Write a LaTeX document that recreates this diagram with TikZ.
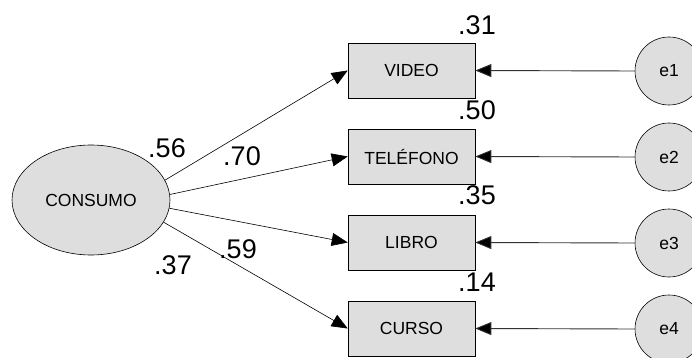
\documentclass[tikz,border=0pt]{standalone}
\usepackage{fontspec}
\setmainfont{Liberation Sans}
\usetikzlibrary{arrows.meta,shapes.geometric}
\definecolor{fillgray}{RGB}{222,222,222}
\definecolor{linegray}{RGB}{50,50,50}
\begin{document}
\begin{tikzpicture}[x=1pt,y=-1pt,
  latent/.style={ellipse,draw=black,fill=fillgray,line width=0.6pt,minimum width=158pt,minimum height=110pt,inner sep=0pt,font=\fontsize{17.5}{17.5}\selectfont},
  obsbox/.style={rectangle,draw=black,fill=fillgray,line width=0.6pt,minimum width=127pt,minimum height=55pt,inner sep=0pt,font=\fontsize{17.5}{17.5}\selectfont},
  errnode/.style={circle,draw=black,fill=fillgray,line width=0.6pt,minimum size=68pt,inner sep=0pt,font=\fontsize{17.5}{17.5}\selectfont},
  coef/.style={inner sep=0pt,font=\fontsize{27}{27}\selectfont},
  arr/.style={line width=0.6pt,-{Triangle[length=16pt,width=13pt]}},
  earr/.style={line width=0.9pt,draw=linegray,-{Triangle[length=16pt,width=13pt,fill=black]}}
]
\useasboundingbox (0,0) rectangle (692,358);
\clip (0,0) rectangle (692,358);
\node[latent] (cons) at (91,200) {CONSUMO};
\node[obsbox] (video) at (411.5,70.5) {VIDEO};
\node[obsbox] (tel) at (411.5,156.5) {TELÉFONO};
\node[obsbox] (libro) at (411.5,242.5) {LIBRO};
\node[obsbox] (curso) at (411.5,328.5) {CURSO};
\node[errnode] (e1) at (669,71) {e1};
\node[errnode] (e2) at (669,157) {e2};
\node[errnode] (e3) at (669,243) {e3};
\node[errnode] (e4) at (669,329) {e4};
\draw[arr] (cons.15) -- (video.west);
\draw[arr] (cons.4) -- (tel.west);
\draw[arr] (cons.-6) -- (libro.west);
\draw[arr] (cons.-17) -- (curso.west);
\draw[earr] (e1.west) -- (video.east);
\draw[earr] (e2.west) -- (tel.east);
\draw[earr] (e3.west) -- (libro.east);
\draw[earr] (e4.west) -- (curso.east);
\node[coef] (l56) at (167,148) {.56};
\node[coef] (l70) at (242,156) {.70};
\node[coef] (l37) at (173,265) {.37};
\node[coef] (l59) at (238,249) {.59};
\node[coef] (r31) at (477,25) {.31};
\node[coef] (r50) at (477,110) {.50};
\node[coef] (r35) at (477,195) {.35};
\node[coef] (r14) at (477,282) {.14};
\end{tikzpicture}
\end{document}
